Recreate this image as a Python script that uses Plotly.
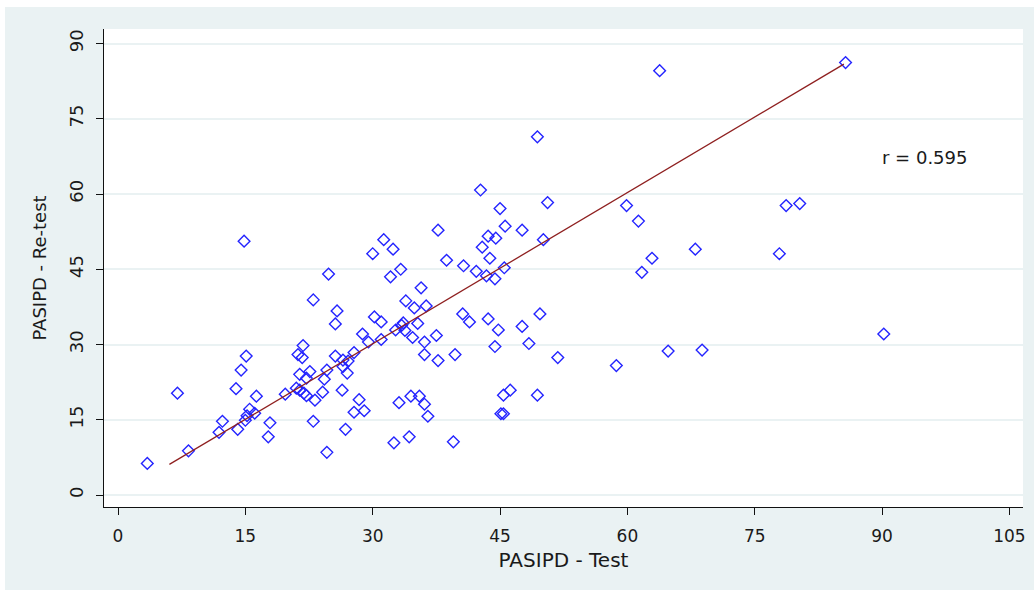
import plotly.graph_objects as go

# PASIPD test vs re-test values
test = [14.85, 24.8, 23.0, 25.8, 25.6, 28.8, 21.8, 21.2, 21.7, 15.1,
        25.6, 26.5, 27.1, 26.5, 27.8, 27.0, 14.5, 22.6, 21.4, 22.2,
        24.6, 24.3, 13.9, 21.0, 21.4, 21.9, 22.2, 19.7, 24.1, 26.4,
        23.2, 7.0, 16.3, 28.4, 27.8, 29.0, 15.5, 15.2, 15.0, 16.1,
        12.3, 11.9, 14.1, 17.9, 17.7, 23.0, 26.8, 24.6, 8.3, 3.45,
        49.4, 42.7, 50.6, 59.9, 45.0, 61.3, 45.6, 37.7, 47.6, 31.3,
        43.6, 44.5, 50.1, 32.4, 42.9, 30.0, 43.8, 62.9, 61.7, 38.7,
        33.3, 32.1, 40.7, 42.2, 43.4, 44.4, 45.5, 35.7, 33.9,
        34.9, 36.3, 40.6, 41.4, 43.6, 49.7, 30.2, 31.0, 33.6, 33.4,
        32.7, 33.8, 35.3, 47.6, 44.8, 31.0, 29.5, 34.7, 36.1, 37.5,
        48.4, 44.4, 36.1, 37.7, 39.7, 51.8, 58.7, 64.8, 33.1, 34.5,
        35.5, 36.1, 36.5, 45.4, 46.2, 49.4, 45.1, 45.4, 32.5, 34.3,
        39.5, 63.8, 85.7, 78.7, 80.3, 68.0, 77.9, 90.2, 68.8]
retest = [50.6, 44.05, 38.9, 36.7, 34.1, 32.1, 29.8, 28.0, 27.4, 27.7,
          27.7, 26.9, 26.7, 25.6, 28.4, 24.3, 24.9, 24.6, 24.05, 23.3,
          24.9, 23.1, 21.2, 21.3, 20.9, 20.3, 19.8, 20.1, 20.5, 20.9,
          18.9, 20.3, 19.7, 19.0, 16.5, 16.8, 17.1, 15.8, 14.9, 16.3,
          14.7, 12.5, 13.1, 14.4, 11.6, 14.7, 13.1, 8.5, 8.8, 6.3,
          71.4, 60.8, 58.3, 57.7, 57.1, 54.6, 53.6, 52.8, 52.8, 50.9,
          51.6, 51.2, 50.9, 49.0, 49.4, 48.1, 47.2, 47.2, 44.4, 46.8,
          45.0, 43.5, 45.7, 44.6, 43.7, 43.1, 45.3, 41.3, 38.7,
          37.3, 37.7, 36.1, 34.5, 35.1, 36.1, 35.5, 34.5, 34.3, 33.8,
          32.9, 32.8, 34.2, 33.6, 32.9, 31.0, 30.5, 31.4, 30.5, 31.8,
          30.2, 29.6, 28.0, 26.8, 28.0, 27.4, 25.8, 28.7, 18.4, 19.7,
          19.7, 18.1, 15.7, 19.9, 20.9, 19.9, 16.2, 16.2, 10.4, 11.6,
          10.6, 84.6, 86.2, 57.7, 58.1, 49.0, 48.1, 32.1, 28.9]

# fitted line end points
fit_x = [6.05, 85.5]
fit_y = [6.1, 85.9]

tick_vals = [0, 15, 30, 45, 60, 75, 90, 105]
y_tick_vals = [0, 15, 30, 45, 60, 75, 90]
r_label = "r = 0.595"

FONT = "DejaVu Sans"
TXT = "#1a1a1a"

fig = go.Figure()
fig.add_trace(go.Scatter(
    x=test, y=retest, mode="markers",
    marker=dict(symbol="diamond-open", size=9, color="#2424ff",
                line=dict(width=1.4, color="#2424ff")),
    showlegend=False, hoverinfo="x+y"))
fig.add_trace(go.Scatter(
    x=fit_x, y=fit_y, mode="lines",
    line=dict(color="#8f2020", width=1.3),
    showlegend=False, hoverinfo="skip"))

fig.add_annotation(x=89.8, y=67.2, xref="x", yref="y", text=r_label,
                   showarrow=False, xanchor="left", yanchor="middle",
                   font=dict(family=FONT, size=18, color=TXT))

# outer grey frame and white plot region
W, H = 1034, 590
L, R, T, B = 104, 11, 29, 83
pw, ph = W - L - R, H - T - B
fig.add_shape(type="rect", xref="paper", yref="paper", layer="below",
              x0=(5 - L) / pw, x1=(W - L) / pw,
              y0=-(B) / ph, y1=(H - B - 7) / ph,
              fillcolor="#eaf2f3", line=dict(width=0))
fig.add_shape(type="rect", xref="paper", yref="paper", layer="below",
              x0=0, x1=1, y0=0, y1=1,
              fillcolor="white", line=dict(width=0))

fig.update_layout(
    width=W, height=H,
    margin=dict(l=L, r=R, t=T, b=B, autoexpand=False),
    paper_bgcolor="white", plot_bgcolor="white",
    font=dict(family=FONT, color=TXT),
    xaxis=dict(range=[-1.65, 106.6], tickvals=tick_vals, automargin=False,
               showgrid=False, zeroline=False,
               showline=True, linecolor="#111111", linewidth=1.3,
               ticks="outside", ticklen=7, tickwidth=1.3, tickcolor="#111111",
               tickfont=dict(family=FONT, size=17, color=TXT),
               ticklabelstandoff=6,
               title=dict(text="PASIPD - Test", standoff=8,
                          font=dict(family=FONT, size=20, color=TXT))),
    yaxis=dict(range=[-2.39, 92.9], tickvals=y_tick_vals, automargin=False,
               showgrid=True, gridcolor="#eaf2f3", gridwidth=1.5,
               zeroline=False,
               showline=True, linecolor="#111111", linewidth=1.3,
               ticks="outside", ticklen=7, tickwidth=1.3, tickcolor="#111111",
               tickangle=-90,
               tickfont=dict(family=FONT, size=18, color=TXT),
               ticklabelstandoff=6,
               title=dict(text="PASIPD - Re-test", standoff=14,
                          font=dict(family=FONT, size=18, color=TXT))),
)

fig.write_html("out.html",
               config={"displayModeBar": False},
               post_script="document.body.style.margin='0';"
                           "document.body.style.overflow='hidden';")
